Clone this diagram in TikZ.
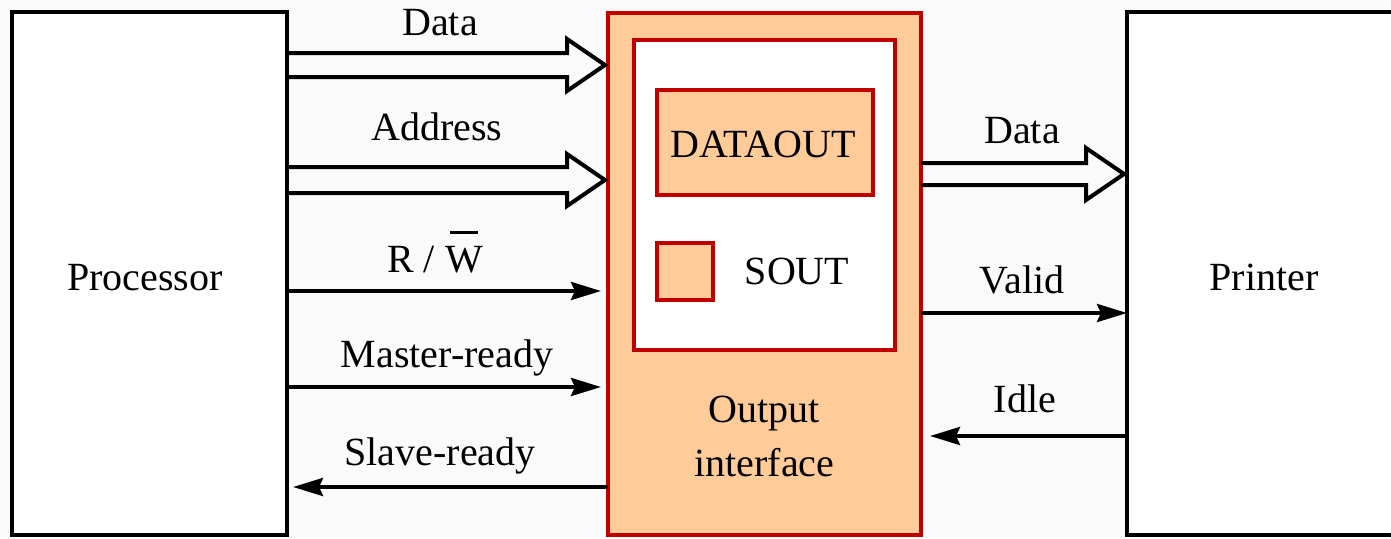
\documentclass[tikz,border=0pt]{standalone}
\usepackage{fontspec}
\setmainfont{Liberation Serif}
\usetikzlibrary{calc,arrows.meta}
\definecolor{peach}{HTML}{FFCC99}
\definecolor{dred}{HTML}{C00000}
\definecolor{bg}{HTML}{FAFAFA}
\newcommand\hollowarr[3]{%
  \draw[hollow] ($(#1)+(0,-#3)$) -- ($(#2)+(-38,-#3)$) -- ($(#2)+(-38,-26)$) -- (#2)
    -- ($(#2)+(-38,26)$) -- ($(#2)+(-38,#3)$) -- ($(#1)+(0,#3)$);}
\begin{document}
\begin{tikzpicture}[x=1pt,y=-1pt,
  font=\fontsize{40}{48}\selectfont,
  blk/.style={draw=black,line width=4pt,fill=white,inner sep=0pt,outer sep=0pt},
  rblk/.style={draw=dred,line width=4pt,fill=peach,inner sep=0pt,outer sep=0pt},
  wblk/.style={draw=dred,line width=4pt,fill=white,inner sep=0pt,outer sep=0pt},
  lbl/.style={anchor=base,inner sep=0pt},
  sig/.style={draw=black,line width=4pt,-{Stealth[length=30pt,width=18pt,inset=4pt]}},
  hollow/.style={draw=black,line width=4pt,line join=miter}]
\fill[bg] (0,0) rectangle (1391,538);
\useasboundingbox (0,0) rectangle (1391,538);

% blocks
\node[blk,minimum width=275pt,minimum height=523pt] (proc) at (149.5,273.5) {};
\node[lbl] (proctxt) at (145,290) {Processor};
\node[blk,minimum width=274pt,minimum height=523pt] (prn) at (1264,273.5) {};
\node[lbl] (prntxt) at (1264,290) {Printer};
\node[rblk,minimum width=313pt,minimum height=522pt] (iface) at (764.5,274) {};
\node[wblk,minimum width=261pt,minimum height=310pt] (inner) at (764.5,195) {};
\node[rblk,minimum width=216pt,minimum height=105pt] (dout) at (765,142.5) {};
\node[lbl] (douttxt) at (763,157) {DATAOUT};
\node[rblk,minimum width=56pt,minimum height=57pt] (sout) at (685,271.5) {};
\node[lbl] (souttxt) at (797,284) {SOUT};
\node[lbl] (out1) at (764.5,422) {Output};
\node[lbl] (out2) at (764.5,476) {interface};

% hollow bus arrows
\coordinate (d1s) at (proc.east |- 0,65);
\coordinate (d1e) at (605,65);
\hollowarr{d1s}{d1e}{12}
\coordinate (a1s) at (proc.east |- 0,180);
\coordinate (a1e) at (605,180);
\hollowarr{a1s}{a1e}{13}
\coordinate (d2s) at (iface.east |- 0,174);
\coordinate (d2e) at ($(prn.west |- 0,174)+(-3,0)$);
\hollowarr{d2s}{d2e}{11}

% signal arrows
\draw[sig,shorten >=7pt] (proc.east |- 0,291) -- (iface.west |- 0,291);
\draw[sig,shorten >=7pt] (proc.east |- 0,387) -- (iface.west |- 0,387);
\draw[sig,shorten >=6pt] (iface.west |- 0,487) -- (proc.east |- 0,487);
\draw[sig] (iface.east |- 0,313) -- (prn.west |- 0,313);
\draw[sig,shorten >=9pt] (prn.west |- 0,436) -- (iface.east |- 0,436);

% labels
\node[lbl] (ldata) at (440,35) {Data};
\node[lbl] (laddr) at (437,140) {Address};
\node[lbl] (lrw) at (435,272) {R / \makebox[0pt][l]{\hspace{5pt}\rule[38pt]{28pt}{3pt}}W};
\node[lbl] (lmr) at (447,367) {Master-ready};
\node[lbl] (lsr) at (440,465) {Slave-ready};
\node[lbl] (ldata2) at (1022,143) {Data};
\node[lbl] (lvalid) at (1022,293) {Valid};
\node[lbl] (lidle) at (1025,412) {Idle};
\end{tikzpicture}
\end{document}
